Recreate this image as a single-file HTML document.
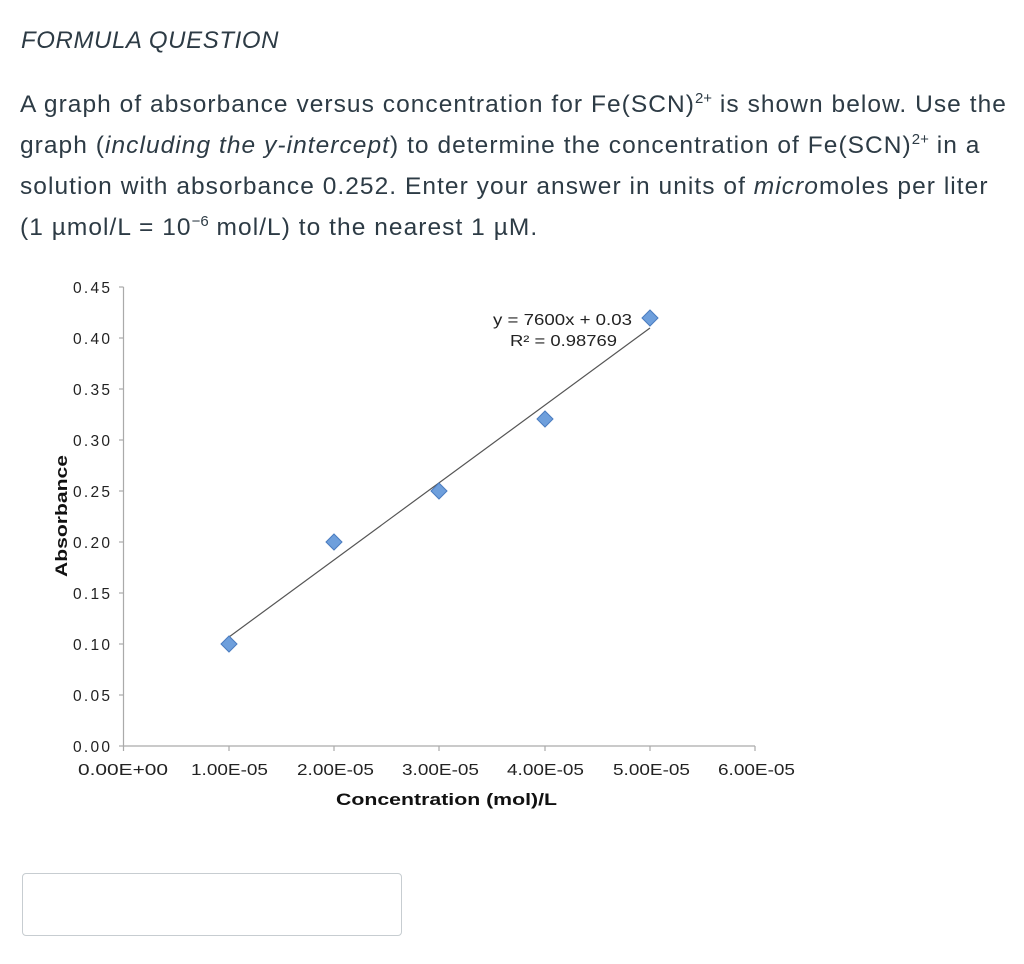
<!DOCTYPE html>
<html><head><meta charset="utf-8"><style>
body{margin:0;background:#fff;width:1024px;height:964px;overflow:hidden;font-family:"Liberation Sans",sans-serif;color:#2d3b45}
.t{position:absolute;left:21px;top:27px;font-size:24px;font-style:italic;color:#2d3b45;letter-spacing:0.6px}
.p{position:absolute;left:20px;top:84px;width:1010px;font-size:24.5px;line-height:41px;color:#2d3b45;white-space:nowrap;letter-spacing:1.05px}
sup{font-size:15px;line-height:0;letter-spacing:0}
.box{position:absolute;left:22px;top:873px;width:378px;height:61px;border:1px solid #c7cdd1;border-radius:4px}
svg{position:absolute;left:0;top:0}
</style></head><body>
<div class="t">FORMULA QUESTION</div>
<div class="p">A graph of absorbance versus concentration for Fe(SCN)<sup>2+</sup> is shown below. Use the<br>graph (<i>including the y-intercept</i>) to determine the concentration of Fe(SCN)<sup>2+</sup> in a<br>solution with absorbance 0.252. Enter your answer in units of <i>micro</i>moles per liter<br>(1 µmol/L = 10<sup>−6</sup> mol/L) to the nearest 1 µM.</div>
<svg width="1024" height="964" font-family="Liberation Sans, sans-serif">
<g stroke="#aaa" stroke-width="1.2" fill="none">
<line x1="123.5" y1="287" x2="123.5" y2="746"/>
<line x1="123.5" y1="746" x2="755" y2="746"/>
<line x1="119" y1="287" x2="123.5" y2="287"/><line x1="119" y1="338" x2="123.5" y2="338"/><line x1="119" y1="389" x2="123.5" y2="389"/><line x1="119" y1="440" x2="123.5" y2="440"/><line x1="119" y1="491" x2="123.5" y2="491"/><line x1="119" y1="542" x2="123.5" y2="542"/><line x1="119" y1="593" x2="123.5" y2="593"/><line x1="119" y1="644" x2="123.5" y2="644"/><line x1="119" y1="695" x2="123.5" y2="695"/><line x1="119" y1="746" x2="123.5" y2="746"/>
<line x1="123.5" y1="746" x2="123.5" y2="751"/><line x1="229" y1="746" x2="229" y2="751"/><line x1="334" y1="746" x2="334" y2="751"/><line x1="439" y1="746" x2="439" y2="751"/><line x1="545" y1="746" x2="545" y2="751"/><line x1="650" y1="746" x2="650" y2="751"/><line x1="755" y1="746" x2="755" y2="751"/>
</g>
<g font-size="15.5" fill="#222" lengthAdjust="spacingAndGlyphs">
<text x="73" y="293" textLength="37">0.45</text><text x="73" y="344" textLength="37">0.40</text><text x="73" y="395" textLength="37">0.35</text><text x="73" y="446" textLength="37">0.30</text><text x="73" y="497" textLength="37">0.25</text><text x="73" y="548" textLength="37">0.20</text><text x="73" y="599" textLength="37">0.15</text><text x="73" y="650" textLength="37">0.10</text><text x="73" y="701" textLength="37">0.05</text><text x="73" y="752" textLength="37">0.00</text>
</g>
<g font-size="15.5" fill="#222">
<text x="78" y="775" textLength="90" lengthAdjust="spacingAndGlyphs">0.00E+00</text>
<text x="191" y="775" textLength="77" lengthAdjust="spacingAndGlyphs">1.00E-05</text>
<text x="297" y="775" textLength="77" lengthAdjust="spacingAndGlyphs">2.00E-05</text>
<text x="402" y="775" textLength="77" lengthAdjust="spacingAndGlyphs">3.00E-05</text>
<text x="507" y="775" textLength="77" lengthAdjust="spacingAndGlyphs">4.00E-05</text>
<text x="613" y="775" textLength="77" lengthAdjust="spacingAndGlyphs">5.00E-05</text>
<text x="718" y="775" textLength="77" lengthAdjust="spacingAndGlyphs">6.00E-05</text>
</g>
<text x="336" y="805" font-size="17" font-weight="bold" fill="#111" textLength="221" lengthAdjust="spacingAndGlyphs">Concentration (mol)/L</text>
<text transform="translate(67,577) rotate(-90)" font-size="17" font-weight="bold" fill="#111" textLength="122" lengthAdjust="spacingAndGlyphs">Absorbance</text>
<line x1="229" y1="637" x2="650" y2="328" stroke="#555" stroke-width="1.2"/>
<g fill="#6e9fdc" stroke="#4a7cc0" stroke-width="1">
<path d="M229 636 l8 8 -8 8 -8 -8z"/>
<path d="M334 534 l8 8 -8 8 -8 -8z"/>
<path d="M439 483 l8 8 -8 8 -8 -8z"/>
<path d="M545 411 l8 8 -8 8 -8 -8z"/>
<path d="M650 310 l8 8 -8 8 -8 -8z"/>
</g>
<text x="493" y="325" font-size="15.5" fill="#222" textLength="139" lengthAdjust="spacingAndGlyphs">y = 7600x + 0.03</text>
<text x="510" y="346" font-size="15.5" fill="#222" textLength="107" lengthAdjust="spacingAndGlyphs">R² = 0.98769</text>
</svg>
<div class="box"></div>
</body></html>
